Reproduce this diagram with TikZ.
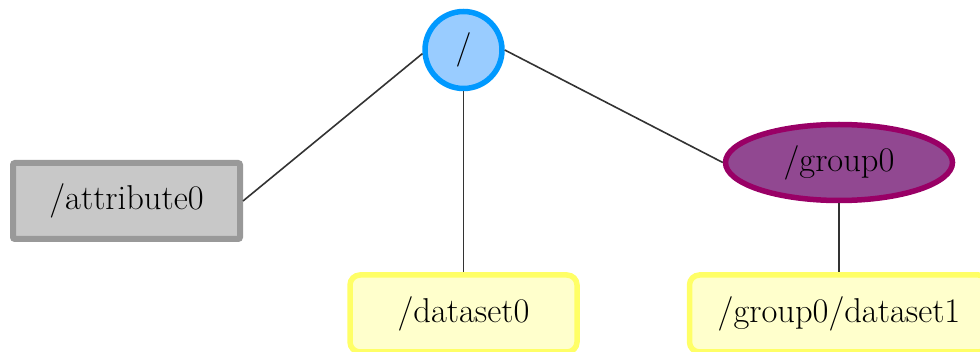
\documentclass[tikz,border=0pt]{standalone}
\usepackage{fontspec}
\usetikzlibrary{shapes.geometric}
\definecolor{rootfill}{HTML}{99CCFF}
\definecolor{rootline}{HTML}{0099FF}
\definecolor{attrfill}{HTML}{C8C8C8}
\definecolor{attrline}{HTML}{999999}
\definecolor{grpfill}{HTML}{914891}
\definecolor{grpline}{HTML}{990066}
\definecolor{dsfill}{HTML}{FFFFCC}
\definecolor{dsline}{HTML}{FFFF66}
\definecolor{edgecol}{HTML}{333333}
\begin{document}
\begin{tikzpicture}[x=1pt,y=-1pt,
  base/.style={font=\fontsize{34.5}{40}\selectfont, text=black, inner sep=0pt, line width=5.5pt},
  rootnode/.style={base, circle, draw=rootline, fill=rootfill, minimum size=77pt},
  attrnode/.style={base, rectangle, rounded corners=2pt, draw=attrline, fill=attrfill, line width=6pt, minimum width=227pt, minimum height=76pt},
  grpnode/.style={base, ellipse, draw=grpline, fill=grpfill, minimum width=227pt, minimum height=76pt},
  dsnode/.style={base, rectangle, rounded corners=10pt, draw=dsline, fill=dsfill, minimum height=77pt},
  edge/.style={draw=edgecol, line width=1.6pt}
]
\useasboundingbox (0,0) rectangle (980,352);
\node[rootnode] (root) at (463.5,50) {/};
\node[attrnode] (attr) at (126.5,201) {/attribute0};
\node[grpnode] (grp) at (839,162.5) {/group0};
\node[dsnode, minimum width=227pt] (ds0) at (463.5,313.5) {/dataset0};
\node[dsnode, minimum width=299pt] (ds1) at (839,313.5) {/group0/dataset1};
\draw[edge] (root.185) -- (attr.east);
\draw[edge] (root.south) -- (ds0.north);
\draw[edge] (root.east) -- (grp.west);
\draw[edge] (grp.south) -- (ds1.north);
\end{tikzpicture}
\end{document}
